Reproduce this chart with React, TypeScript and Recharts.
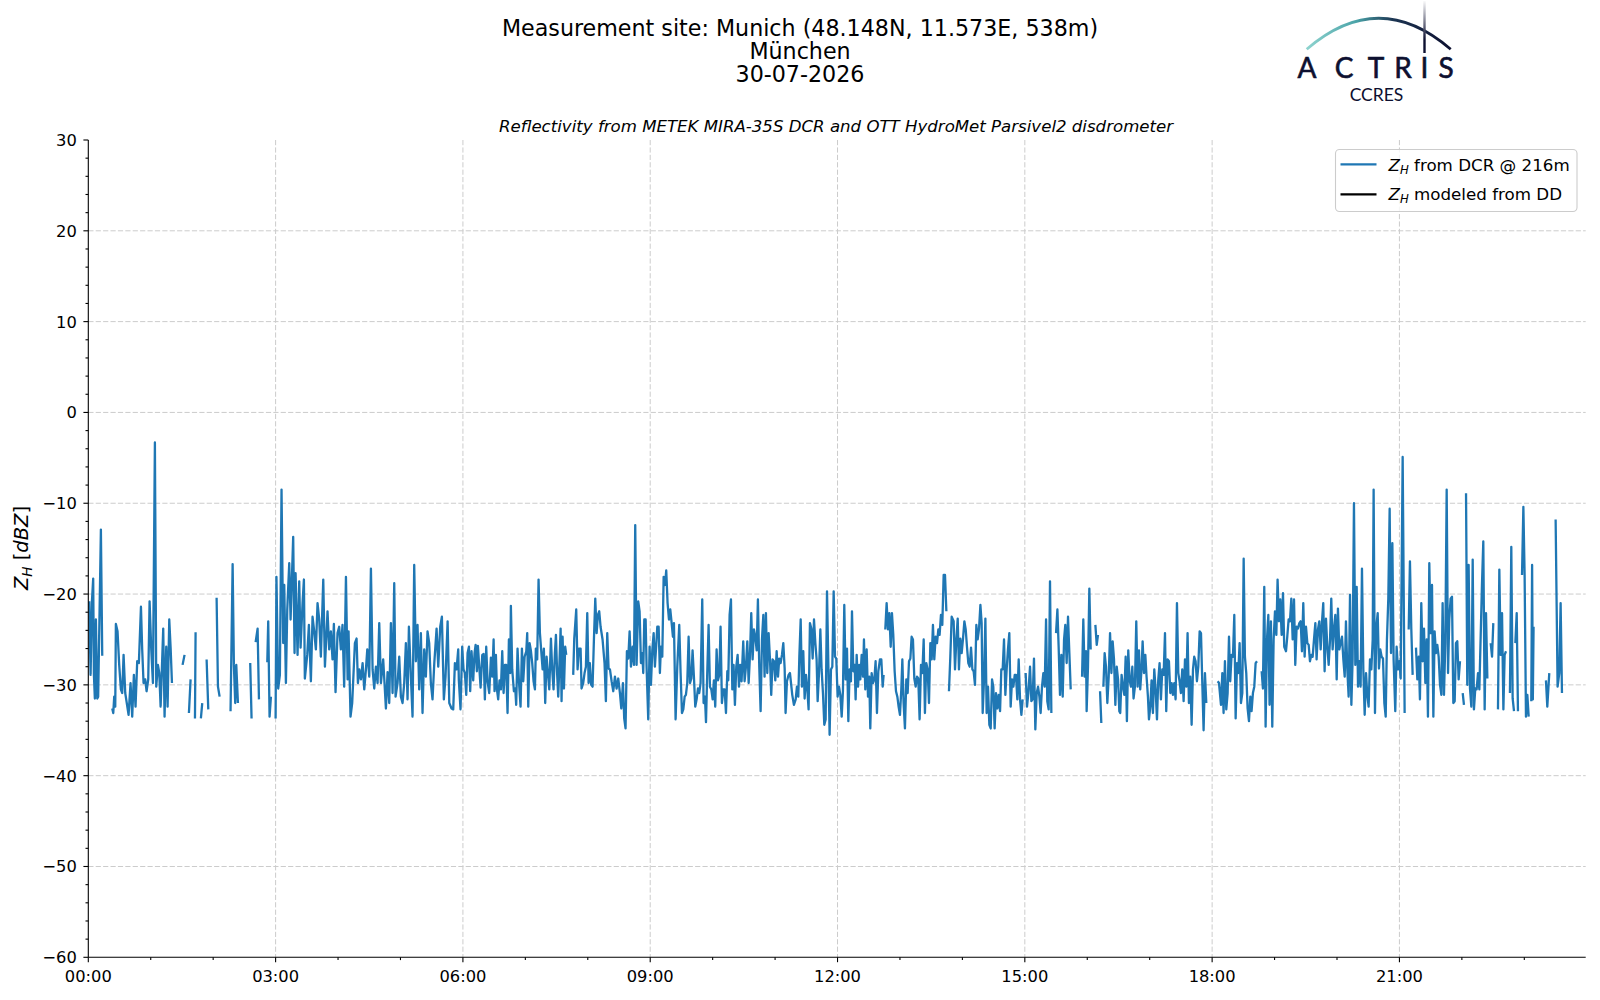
import React from "react";
import { LineChart, Line, XAxis, YAxis, CartesianGrid } from "recharts";

type Pt = [number, number | null];

// Z_H from DCR @ 216m: [minutes since 00:00, dBZ], null = no data
const zh00: Pt[] = [
  [0.9, -20.8], [2.2, -28.9], [3.5, -20.8], [4.7, -18.3], [5.4, -28.9], [6.3, -31.5], [7.3, -22.8], [8.6, -31.5], [9.5, -31.3], [12.1, -12.9], [13.4, -26.8], [18, null],
  [23.0, -32.6], [24.0, -33.1], [24.9, -31.3], [25.9, -32.4], [26.5, -23.3], [28.1, -24.1], [29.7, -27.8], [31.3, -30.5], [32.6, -30.9], [33.9, -26.7], [35.5, -30.9], [38.7, -33.3],
  [40.6, -29.8], [42.2, -33.5], [43.8, -28.9], [45.4, -32.4], [47.0, -27.4], [48.6, -27.6], [50.6, -21.4], [51.8, -26.1], [53.1, -29.8], [54.7, -29.4], [56.0, -30.7], [57.6, -29.4],
  [58.9, -20.8], [60.5, -26.1], [62.1, -29.8], [64.0, -3.3], [65.3, -30.2], [66.9, -27.8], [68.2, -28.7], [69.5, -32.4], [72.0, -23.8], [73.3, -33.5], [74.9, -25.8], [76.2, -32.4],
  [77.8, -22.8], [79.1, -25.9], [80.4, -29.8], [85, null],
  [90.6, -27.8], [92.5, -26.7], [95, null], [96.7, -33.1], [98.3, -29.4], [100, null], [102.5, -33.7], [103.1, -24.2], [105, null], [108.2, -33.7], [109.5, -32.0], [111, null],
  [113.7, -27.2], [115.3, -32.7], [120, null], [123.3, -20.4], [124.6, -30.2], [126.2, -31.3], [132, null], [136.7, -32.9], [138.7, -16.7], [139.9, -27.8], [141.2, -32.0],
  [142.2, -27.8], [143.8, -32.0], [148, null], [155.6, -27.6], [156.9, -33.7], [158, null], [160.8, -25.3], [162.7, -23.8], [164.0, -31.6], [166, null],
  [172.0, -27.5], [172.9, -23.0], [174.2, -33.5], [175.5, -31.3], [178, null],
];

const zh03: Pt[] = [
  [180.0, -33.7], [180.8, -18.1], [182.5, -30.4], [184.1, -28.9], [185.7, -8.5], [187.3, -25.4], [188.3, -19.0], [189.9, -29.8], [191.2, -21.7], [193.1, -16.6], [194.4, -22.8],
  [196.9, -13.7], [198.2, -26.5], [199.2, -17.7], [201.1, -26.7], [202.7, -18.6], [204.0, -25.9], [205.9, -21.0], [207.2, -18.4], [208.1, -29.3], [210.4, -26.7], [212.0, -23.4],
  [213.9, -29.6], [215.5, -22.5], [217.1, -24.1], [218.7, -26.1], [220.3, -21.0], [221.9, -22.8], [223.5, -26.9], [225.8, -18.4], [227.4, -28.0], [229.9, -21.9], [231.5, -26.1],
  [233.1, -24.1], [234.7, -27.2], [236.0, -23.3], [237.6, -30.8], [239.5, -24.3], [241.1, -23.6], [242.7, -26.1], [244.3, -23.4], [245.9, -30.2], [247.6, -18.1], [249.2, -29.4],
  [250.1, -24.1], [252.0, -33.5], [253.6, -32.0], [256.2, -25.4], [257.8, -24.9], [259.1, -29.8], [260.4, -28.3], [262.0, -29.4], [263.6, -27.6], [265.2, -30.5], [266.8, -28.3],
  [268.1, -26.1], [270.0, -29.1], [271.6, -17.2], [273.2, -28.3], [274.8, -30.4], [276.4, -28.0], [278.0, -29.8], [279.6, -23.2], [281.2, -29.8], [283.4, -27.2], [286.0, -32.6],
  [287.6, -28.6], [289.2, -32.0], [290.8, -23.2], [292.4, -30.9], [294.0, -18.8], [295.3, -31.3], [297.2, -29.8], [298.8, -26.9], [300.4, -31.3], [302.0, -32.0], [303.6, -29.8],
  [305.2, -25.4], [306.8, -31.6], [308.1, -23.6], [310.0, -29.1], [311.6, -33.5], [313.2, -16.8], [314.8, -27.4], [316.4, -23.4], [318.0, -30.5], [319.6, -24.3], [321.2, -33.1],
  [322.8, -26.1], [324.4, -29.1], [326.0, -24.1], [327.6, -25.4], [329.2, -29.8], [330.8, -31.6], [332.5, -27.6], [334.7, -23.8], [336.3, -28.0], [338.2, -23.6], [339.8, -22.5],
  [341.7, -31.6], [343.3, -29.1], [345.3, -23.0], [346.9, -32.0], [349.1, -32.6], [350.7, -32.7], [352.3, -27.6], [353.9, -28.3], [355.5, -26.1], [356.1, -29.5], [357.7, -32.7],
  [359.3, -25.8],
];

const zh06: Pt[] = [
  [360.6, -28.3], [361.9, -28.7], [363.2, -31.1], [364.5, -26.5], [365.8, -25.8], [367.0, -30.7], [368.3, -26.3], [369.9, -29.5], [371.2, -26.5], [372.2, -25.6], [373.4, -28.5],
  [374.4, -25.7], [377.0, -30.3], [378.6, -26.7], [379.9, -26.6], [381.1, -31.6], [382.4, -25.8], [383.7, -29.6], [385.3, -30.9], [386.9, -27.0], [388.2, -29.1], [389.5, -25.0],
  [390.4, -30.7], [391.7, -26.7], [392.7, -30.5], [393.9, -31.6], [395.2, -29.5], [396.5, -30.5], [397.8, -26.3], [399.1, -30.9], [400.4, -27.8], [401.6, -27.8], [402.9, -33.1],
  [404.2, -25.0], [405.5, -28.7], [406.1, -21.3], [407.4, -28.3], [409.0, -30.7], [410.3, -30.4], [411.2, -32.2], [412.5, -26.0], [413.8, -29.5], [415.4, -32.4], [416.7, -26.0],
  [418.0, -29.6], [419.3, -26.9], [420.9, -26.3], [421.8, -24.3], [422.8, -32.4], [424.1, -25.4], [425.3, -26.2], [426.6, -27.6], [427.9, -29.6], [429.2, -30.5], [430.1, -26.0],
  [431.4, -27.2], [432.7, -18.4], [434.0, -24.3], [436.6, -28.3], [437.8, -26.0], [439.1, -32.0], [440.4, -26.9], [441.7, -28.7], [443.0, -30.5], [444.6, -24.9], [445.8, -28.3],
  [447.1, -30.5], [448.4, -26.5], [449.4, -24.5], [450.6, -28.9], [451.6, -31.3], [452.6, -28.2], [453.9, -23.8], [454.8, -31.8], [455.8, -24.7], [457.1, -30.4], [458.3, -25.8],
  [459.3, -26.7], [462, null], [466.0, -28.9], [467.0, -24.9], [468.9, -21.7], [470.2, -28.3], [471.5, -26.0], [473.1, -26.0], [474.0, -30.4], [475.6, -29.8], [476.9, -28.7],
  [478.2, -28.0], [479.5, -22.1], [480.8, -29.8], [482.0, -27.6], [483.3, -30.0], [484.6, -30.2], [485.9, -25.0], [487.2, -20.5], [488.5, -24.3], [489.7, -22.3], [491.0, -21.9],
  [492.3, -23.6], [494.2, -25.0], [496.1, -27.6], [497.4, -31.8], [498.7, -24.3], [500.0, -28.2], [501.3, -28.3], [502.9, -29.6], [504.5, -30.7], [506.1, -29.1], [507.7, -30.4],
  [509.3, -29.3], [510.9, -30.9], [512.2, -32.6], [513.8, -29.8], [515.0, -33.7], [516.3, -34.8], [517.6, -26.3], [518.9, -27.1], [520.2, -24.1], [521.5, -28.0], [523.1, -25.8],
  [524.4, -27.8], [525.6, -12.4], [526.9, -27.8], [528.5, -20.8], [529.8, -21.9], [531.1, -27.6], [532.4, -26.5], [533.3, -28.7], [534.3, -22.8], [535.6, -22.8], [536.5, -28.0],
  [538.1, -33.8], [539.4, -25.8],
];

const zh09: Pt[] = [
  [540.7, -30.0], [542.0, -26.2], [543.3, -24.3], [544.5, -28.0], [545.8, -25.6], [546.8, -23.6], [548.1, -23.6], [549.3, -28.7], [550.3, -25.8], [551.6, -26.9], [552.9, -18.1],
  [554.2, -19.0], [555.4, -17.4], [556.7, -21.0], [558.0, -22.8], [559.3, -21.7], [560.6, -23.2], [561.8, -24.7], [562.8, -23.2], [564.4, -33.8], [566.0, -28.0], [567.9, -23.4],
  [569.2, -28.7], [570.5, -33.1], [571.8, -32.7], [573.1, -31.3], [574.3, -31.1], [575.6, -29.8], [576.9, -24.7], [578.2, -29.8], [579.5, -29.3], [580.7, -26.2], [582.0, -29.1],
  [583.3, -32.4], [584.6, -31.6], [585.9, -30.4], [587.1, -30.9], [588.4, -29.8], [590.0, -20.6], [591.3, -32.0], [592.6, -31.3], [593.6, -34.1], [594.8, -28.7], [596.1, -23.4],
  [597.4, -30.2], [598.7, -30.5], [600.0, -31.6], [601.2, -29.5], [602.5, -32.4], [603.8, -26.1], [605.1, -29.5], [606.4, -28.9], [607.6, -23.6], [608.9, -32.0], [610.2, -30.5],
  [611.5, -30.5], [612.8, -33.1], [614.1, -28.5], [615.0, -29.5], [616.3, -22.3], [617.6, -20.6], [618.9, -30.5], [620.1, -27.8], [621.4, -32.2], [622.7, -28.0], [624.0, -26.7],
  [625.3, -30.2], [626.5, -27.8], [627.8, -29.6], [629.4, -25.2], [630.7, -29.6], [632.0, -28.0], [633.3, -25.2], [634.6, -29.8], [635.8, -26.9], [637.1, -22.1], [638.4, -27.2],
  [639.7, -23.9], [641.0, -24.7], [642.3, -26.2], [643.5, -20.6], [644.8, -28.0], [646.1, -32.9], [647.4, -25.0], [648.7, -22.3], [649.9, -29.1], [651.2, -22.1], [652.5, -28.7],
  [653.8, -24.3], [655.1, -27.2], [656.3, -31.1], [657.6, -27.2], [658.9, -27.4], [660.2, -29.5], [661.5, -26.3], [662.8, -29.1], [664.0, -27.1], [665.3, -27.6], [666.6, -26.7],
  [667.9, -25.4], [669.2, -28.2], [670.1, -33.1], [671.4, -29.6], [673.0, -28.9], [674.3, -28.7], [676.5, -31.1], [678.1, -32.2], [679.8, -31.6], [681.0, -30.2], [682.3, -31.3],
  [683.3, -26.9], [684.6, -22.8], [685.8, -30.2], [687.1, -26.3], [688.4, -31.5], [689.7, -28.9], [691.0, -30.5], [692.2, -32.7], [693.5, -23.2], [694.8, -23.8], [696.1, -27.1],
  [697.4, -22.8], [698.7, -25.4], [699.9, -27.2], [700.9, -31.8], [702.2, -28.7], [703.5, -23.9], [704.7, -28.3], [706.0, -30.9], [707.3, -34.4], [708.6, -33.8], [709.9, -19.7],
  [711.1, -27.2], [712.4, -35.5], [713.7, -28.3], [715.0, -28.0], [716.3, -19.7], [717.6, -26.9], [718.8, -27.1],
];

const zh12: Pt[] = [
  [720.1, -31.3], [721.4, -30.2], [722.7, -31.1], [724.0, -33.5], [725.2, -30.7], [726.5, -21.2], [727.8, -29.4], [729.1, -26.0], [730.4, -34.0], [731.6, -28.3], [732.9, -29.6],
  [733.9, -21.9], [735.2, -28.5], [736.5, -27.8], [737.4, -31.6], [738.4, -26.7], [739.7, -30.2], [740.9, -27.8], [741.9, -29.4], [743.2, -26.7], [744.5, -29.1], [745.4, -25.0],
  [746.7, -30.5], [748.0, -26.1], [749.3, -31.3], [750.5, -29.1], [751.5, -34.8], [752.8, -28.7], [754.1, -29.8], [755.4, -29.4], [756.6, -27.4], [757.9, -33.1], [759.2, -28.5],
  [760.8, -27.2], [762.1, -27.2], [763.4, -30.2], [764.3, -28.9], [765.3, null], [765.9, -23.9], [767.2, -21.0], [768.5, -23.9], [769.8, -22.1], [771.1, -25.8], [772.3, -22.1],
  [773.6, -24.5], [774.9, -28.5], [776.2, -30.7], [777.5, -31.3], [778.7, -32.4], [780.0, -33.3], [781.3, -30.5], [782.3, -27.2], [783.5, -32.0], [784.8, -34.8], [786.1, -29.4],
  [787.4, -30.9], [788.7, -27.4], [790.0, -27.1], [791.2, -24.7], [792.5, -25.0], [793.8, -29.3], [795.1, -30.2], [796.4, -29.1], [797.6, -29.3], [798.9, -33.8], [800.2, -27.8],
  [801.5, -28.7], [802.8, -25.0], [804.0, -33.1], [805.3, -27.6], [806.6, -28.3], [807.9, -32.0], [809.2, -25.4], [810.5, -27.2], [811.7, -23.4], [813.0, -27.2], [814.3, -24.7],
  [815.6, -25.4], [816.9, -23.9], [818.1, -24.5], [819.4, -22.3], [820.7, -23.4], [822.0, -17.9], [823.3, -17.9], [824.6, -21.9], [826, null], [827.1, -30.7], [828.4, -26.9],
  [829.7, -22.5], [831.6, -23.0], [832.9, -28.3], [834.2, -25.0], [835.5, -22.7], [836.7, -28.3], [838.0, -24.9], [839.3, -26.5], [840.6, -24.9], [841.9, -23.0], [843.2, -23.9],
  [844.4, -25.8], [845.7, -27.6], [847.0, -28.0], [848.3, -25.9], [849.6, -28.3], [850.8, -28.5], [852.1, -30.0], [853.4, -23.4], [854.7, -25.0], [856.0, -23.8], [857.3, -21.2],
  [858.5, -23.2], [859.5, -33.1], [860.8, -29.4], [862.1, -22.7], [863.3, -33.1], [864.6, -30.2], [865.9, -34.4], [867.2, -34.8], [868.5, -29.4], [869.7, -30.2], [871.0, -34.8],
  [872.3, -30.9], [873.6, -32.6], [874.9, -31.1], [876.2, -32.9], [877.4, -28.3], [878.7, -28.3], [880.0, -25.0], [881.3, -31.1], [882.6, -28.2], [883.8, -26.1], [885.1, -24.3],
  [886.4, -32.4], [887.7, -29.4], [889.0, -30.2], [890.3, -28.9], [891.5, -28.9], [892.8, -31.6], [894.1, -27.2], [895.4, -31.6], [896.7, -33.3], [897.9, -31.6], [899.5, null],
];

const zh15: Pt[] = [
  [900.8, -28.7], [902.1, -32.4], [903.4, -30.9], [905.0, -28.0], [906.3, -31.8], [907.5, -31.6], [908.8, -27.1], [910.1, -34.9], [911.4, -30.9], [912.7, -30.2], [914.0, -31.3],
  [915.2, -33.1], [916.5, -30.2], [917.8, -28.7], [919.1, -30.2], [920.4, -22.8], [921.6, -31.8], [922.9, -32.7], [924.2, -18.6], [925.5, -33.1], [927, null], [930.0, -24.3],
  [931.3, -21.7], [932.5, -25.8], [933.8, -31.1], [935.1, -26.7], [936.4, -31.3], [937.7, -25.0], [938.9, -23.4], [940.2, -27.6], [941.5, -22.5], [942.8, -26.5], [944.1, -30.5],
  [950, null], [955.0, -29.1], [956.2, -22.8], [957.5, -29.1], [958.8, -26.3], [959.4, -32.9], [960.7, -28.0], [962.0, -19.4], [963.3, -26.1], [965, null], [967.8, -23.4],
  [969.1, -25.6], [970.3, -24.5], [971.5, null], [972.3, -30.7], [973.5, -34.2], [974.8, null], [975.5, -30.2], [976.7, -26.5], [978.0, -28.0], [979.3, -32.0], [980.6, -29.1],
  [981.9, -24.3], [983.2, -28.7], [984.4, -25.2], [985.7, -27.2], [987.0, -32.2], [988.3, -28.0], [989.6, -29.4], [990.8, -32.9], [991.7, -33.1], [993.0, -28.9], [994.3, -30.2],
  [995.6, -31.1], [996.9, -26.9], [998.1, -34.0], [999.4, -26.2], [1000.7, -29.5], [1002.0, -30.2], [1003.3, -28.0], [1004.5, -31.5], [1005.8, -30.2], [1007.1, -23.0],
  [1008.4, -30.2], [1009.7, -26.2], [1010.9, -30.5], [1012.2, -28.2], [1013.2, -25.2], [1014.5, -28.7], [1015.8, -26.7], [1017.0, -29.1], [1018.3, -31.3], [1019.3, -33.8],
  [1020.6, -32.4], [1021.8, -29.5], [1023.1, -33.1], [1024.4, -28.3], [1025.7, -30.5], [1027.0, -33.8], [1028.2, -29.5], [1029.5, -27.6], [1030.8, -31.6], [1032.1, -28.3],
  [1033.4, -28.9], [1034.7, -24.3], [1035.9, -32.9], [1037.2, -27.2], [1038.5, -27.4], [1039.8, -30.9], [1041.1, -29.8], [1042.3, -31.1], [1043.6, -29.8], [1044.9, -31.6],
  [1046.2, -21.0], [1047.5, -28.7], [1048.7, -29.6], [1050.0, -30.9], [1051.3, -28.3], [1052.6, -31.8], [1053.9, -27.2], [1055.2, -30.2], [1056.4, -24.3], [1057.7, -32.0],
  [1059.0, -29.1], [1060.3, -34.4], [1061.6, -28.3], [1062.8, -26.9], [1064.1, -27.4], [1065.4, -29.6], [1066.7, -28.0], [1068.0, -24.1], [1069.3, -24.3], [1070.5, -29.6],
  [1071.8, -35.0], [1073.1, -28.7], [1074.4, -32.0], [1080, null],
];

const zh18: Pt[] = [
  [1085.3, -29.6], [1086.6, -29.8], [1088.5, -32.2], [1089.8, -28.7], [1091.0, -33.1], [1092.3, -27.4], [1093.6, -32.7], [1094.9, -30.9], [1096.2, -24.7], [1097.4, -29.6],
  [1098.7, -26.7], [1100.0, -26.9], [1101.3, -22.3], [1102.6, -33.7], [1103.9, -27.6], [1105.1, -28.7], [1106.4, -25.4], [1107.7, -32.0], [1109.0, -30.9], [1110.3, -16.1],
  [1111.5, -26.9], [1112.8, -28.7], [1114.1, -32.6], [1115.4, -34.0], [1116.7, -31.3], [1117.9, -32.9], [1119.2, -30.9], [1120.5, -30.2], [1121.8, -27.6], [1123.1, -27.4],
  [1125, null], [1127.6, -28.5], [1128.8, -30.4], [1130.1, -19.2], [1131.4, -34.6], [1132.7, -25.0], [1134.0, -22.3], [1135.2, -32.2], [1136.5, -23.0], [1137.8, -34.6],
  [1139.1, -25.0], [1140.4, -21.9], [1141.7, -24.5], [1142.9, -18.4], [1144.2, -23.0], [1145.5, -20.6], [1146.8, -24.5], [1148.1, -19.9], [1149.3, -25.8], [1151.0, -26.3],
  [1152.2, -24.7], [1153.5, -22.8], [1154.8, -23.0], [1156.1, -20.5], [1157.4, -25.0], [1158.7, -20.6], [1159.9, -27.8], [1161.2, -23.6], [1162.5, -23.8], [1163.8, -23.2],
  [1165.1, -23.0], [1166.3, -26.3], [1167.6, -21.0], [1168.9, -26.9], [1170.2, -23.6], [1171.5, -25.4], [1172.8, -25.6], [1174.0, -27.4], [1175.3, -26.7], [1176.6, -26.9],
  [1177.9, -25.0], [1179.2, -23.2], [1180.4, -27.2], [1181.7, -23.9], [1183.0, -23.0], [1184.3, -26.1], [1185.6, -23.0], [1186.8, -21.0], [1188.1, -28.5], [1189.4, -22.7],
  [1190.7, -25.8], [1192.0, -27.8], [1193.3, -25.0], [1194.5, -20.5], [1195.8, -26.1], [1197.1, -23.8], [1198.4, -22.3], [1199.7, -29.4], [1200.9, -21.6], [1202.2, -26.1],
  [1203.5, -25.4], [1204.8, -24.7], [1206.1, -27.2], [1207.4, -29.1], [1208.6, -23.0], [1209.9, -28.3], [1211.2, -31.3], [1212.5, -20.1], [1213.8, -32.2], [1215.0, -27.2],
  [1216.3, -10.0], [1217.6, -27.8], [1218.9, -19.2], [1220.2, -30.2], [1221.4, -27.4], [1222.7, -30.2], [1224.0, -17.2], [1225.3, -28.3], [1226.6, -33.3], [1227.9, -28.7],
  [1229.1, -31.1], [1230.4, -32.4], [1231.7, -27.2], [1233.0, -28.3], [1234.3, -25.0], [1235.2, -8.5], [1236.5, -33.1], [1237.8, -23.6], [1239.1, -22.1], [1240.3, -28.2],
  [1241.6, -26.1], [1242.9, -26.9], [1244.2, -27.1], [1245.5, -32.0], [1246.8, -33.5], [1248.0, -25.0], [1249.3, -20.5], [1250.6, -10.6], [1251.9, -26.5], [1253.2, -14.4],
  [1254.4, -27.2], [1256.0, -32.9], [1257.3, -25.8], [1258.6, -28.3], [1259.9, -27.4],
];

const zh21: Pt[] = [
  [1261.2, -29.3], [1263.1, -4.9], [1265.0, -33.1], [1266, null], [1268.9, -23.9], [1270.1, -16.4], [1271.4, -23.8], [1272.7, -28.9], [1274.5, null], [1275.9, -25.9],
  [1277.2, -29.4], [1278.5, -26.9], [1279.7, -31.6], [1281.0, -21.0], [1282.3, -27.4], [1283.6, -23.8], [1284.9, -29.8], [1286.2, -25.0], [1287.4, -33.5], [1288.7, -16.6],
  [1290.0, -24.3], [1291.3, -19.0], [1292.6, -33.5], [1293.8, -24.1], [1295.1, -26.5], [1296.4, -25.6], [1297.7, -26.9], [1299.0, -30.0], [1300.3, -31.1], [1301.5, -21.0],
  [1302.8, -31.1], [1304.1, -25.4], [1305.4, -8.5], [1306.7, -28.7], [1307.9, -22.8], [1309.2, -20.5], [1310.5, -20.3], [1311.8, -32.0], [1313.1, -31.8], [1314.3, -25.4],
  [1315.6, -25.2], [1316.9, -29.4], [1318.2, -27.4], [1319.5, null], [1320.8, -30.9], [1322.0, -32.2], [1323, null], [1324.0, -8.9], [1325.2, -30.0], [1326.5, -16.8],
  [1327.8, -30.4], [1329.1, -32.4], [1330.4, -16.2], [1331.6, -32.7], [1332.9, -30.4], [1334.2, -30.5], [1335.5, -28.7], [1336.8, -30.5], [1338.1, -24.5], [1339.3, -19.0],
  [1340.6, -14.2], [1341.9, -32.7], [1343.2, -22.1], [1344.5, -29.3], [1346, null], [1347.7, -25.4], [1349.0, -26.9], [1350.2, -23.2], [1352, null], [1354.7, -32.7],
  [1356.0, -17.3], [1357.3, -26.7], [1358.6, -22.1], [1359.9, -32.7], [1361.1, -26.7], [1362.4, -26.3], [1364, null], [1366.2, -30.9], [1367.5, -14.8], [1368.8, -31.5],
  [1370.1, -32.9], [1370.8, null], [1371.4, -25.4], [1372.7, -22.1], [1373.9, -32.9], [1376, null], [1377.8, -17.9], [1379.1, -10.4], [1380.3, -17.9], [1381.6, -33.5],
  [1382.9, -31.1], [1384.2, -33.5], [1386, null], [1386.7, -31.8], [1387.5, -16.8], [1388.2, -31.6], [1388.9, -23.6], [1394, null], [1400.8, -29.5], [1402.1, -32.4],
  [1404.0, -28.7], [1406, null], [1410.1, -11.8], [1412.0, -30.2], [1413.6, -28.7], [1414.9, -21.0], [1416.2, -30.9],
];

// axis ticks (minutes since 00:00 / dBZ)
const xTicks = [0, 60, 120, 180, 240, 300, 360, 420, 480, 540, 600, 660, 720, 780, 840, 900, 960, 1020, 1080, 1140, 1200, 1260, 1320, 1380];
const yTicks = [
  -60, -58, -56, -54, -52, -50, -48, -46, -44, -42, -40, -38, -36, -34, -32, -30, -28, -26, -24, -22, -20, -18, -16, -14, -12, -10,
  -8, -6, -4, -2, 0, 2, 4, 6, 8, 10, 12, 14, 16, 18, 20, 22, 24, 26, 28, 30,
];
const gridX = [180, 360, 540, 720, 900, 1080, 1260];
const gridY = [-50, -40, -30, -20, -10, 0, 10, 20];

const data = [zh00, zh03, zh06, zh09, zh12, zh15, zh18, zh21].flat().map(([t, v]) => ({ t, zh: v }));

const FONT = "DejaVu Sans";
const spine = { stroke: "#000", strokeWidth: 1.1 };

const fmtY = (v: number) => (v < 0 ? "\u2212" + Math.abs(v) : String(v));
const fmtX = (m: number) => String(Math.floor(m / 60)).padStart(2, "0") + ":00";

function XTick(props: any) {
  const { x, y, payload } = props;
  const major = payload.value % 180 === 0;
  return (
    <g>
      <line x1={x} x2={x} y1={y} y2={y + (major ? 4.9 : 2.8)} stroke="#000" strokeWidth={1.1} />
      {major && (
        <text x={x} y={y + 24.2} textAnchor="middle" fontSize={16.3} fontFamily={FONT} fill="#000">
          {fmtX(payload.value)}
        </text>
      )}
    </g>
  );
}

function YTick(props: any) {
  const { x, y, payload } = props;
  const major = payload.value % 10 === 0;
  return (
    <g>
      <line x1={x} x2={x - (major ? 4.9 : 2.8)} y1={y} y2={y} stroke="#000" strokeWidth={1.1} />
      {major && (
        <text x={x - 11.5} y={y + 5.9} textAnchor="end" fontSize={16.3} fontFamily={FONT} fill="#000">
          {fmtY(payload.value)}
        </text>
      )}
    </g>
  );
}

function Decorations() {
  return (
    <svg width={1600} height={1000} style={{ position: "absolute", left: 0, top: 0, pointerEvents: "none" }}>
      <defs>
        <linearGradient id="arcGrad" gradientUnits="userSpaceOnUse" x1={1306} y1={0} x2={1451} y2={0}>
          <stop offset="0" stopColor="#8fd4cf" />
          <stop offset="0.35" stopColor="#4aa3a8" />
          <stop offset="0.6" stopColor="#1c3552" />
          <stop offset="1" stopColor="#0d1030" />
        </linearGradient>
        <linearGradient id="barGrad" gradientUnits="userSpaceOnUse" x1={0} y1={0} x2={0} y2={40}>
          <stop offset="0" stopColor="#ffffff" />
          <stop offset="1" stopColor="#0d1030" />
        </linearGradient>
      </defs>

      {/* figure title */}
      <g fontFamily={FONT} fontSize={22.2} fill="#000" textAnchor="middle">
        <text x={800} y={36}>Measurement site: Munich (48.148N, 11.573E, 538m)</text>
        <text x={800} y={59}>München</text>
        <text x={800} y={82}>30-07-2026</text>
      </g>
      <text x={836} y={131.7} textAnchor="middle" fontFamily={FONT} fontSize={16.6} fontStyle="italic" fill="#000">
        Reflectivity from METEK MIRA-35S DCR and OTT HydroMet Parsivel2 disdrometer
      </text>

      {/* y axis label */}
      <text transform="translate(28,548) rotate(-90)" textAnchor="middle" fontFamily={FONT} fontSize={19.5} fill="#000">
        <tspan fontStyle="italic">Z</tspan>
        <tspan fontStyle="italic" fontSize={13.6} dy={3.5}>H</tspan>
        <tspan dy={-3.5}> [</tspan>
        <tspan fontStyle="italic">dBZ</tspan>
        <tspan>]</tspan>
      </text>

      {/* legend */}
      <rect x={1335.5} y={149.5} width={241.5} height={62} rx={4} fill="#fff" fillOpacity={0.8} stroke="#cccccc" strokeWidth={1.1} />
      <line x1={1340.5} x2={1376.5} y1={164.3} y2={164.3} stroke="#1f77b4" strokeWidth={2.2} />
      <line x1={1340.5} x2={1376.5} y1={194.3} y2={194.3} stroke="#000" strokeWidth={2.2} />
      <g fontFamily={FONT} fontSize={16.7} fill="#000">
        <text x={1388.5} y={170.5}>
          <tspan fontStyle="italic">Z</tspan>
          <tspan fontStyle="italic" fontSize={11.7} dy={3}>H</tspan>
          <tspan dy={-3}> from DCR @ 216m</tspan>
        </text>
        <text x={1388.5} y={200}>
          <tspan fontStyle="italic">Z</tspan>
          <tspan fontStyle="italic" fontSize={11.7} dy={3}>H</tspan>
          <tspan dy={-3}> modeled from DD</tspan>
        </text>
      </g>

      {/* ACTRIS CCRES logo */}
      <path d="M1306.7,49.3 Q1378.7,-12.7 1450.7,49.3" fill="none" stroke="url(#arcGrad)" strokeWidth={2.8} />
      <line x1={1424.5} x2={1424.5} y1={1} y2={53} stroke="url(#barGrad)" strokeWidth={2.4} />
      <g fontFamily="Lato" fontSize={28} fill="#0d1030" textAnchor="middle" stroke="#0d1030" strokeWidth={0.6}>
        <text x={1307} y={78}>A</text>
        <text x={1344} y={78}>C</text>
        <text x={1376} y={78}>T</text>
        <text x={1403} y={78}>R</text>
        <text x={1424.5} y={78}>I</text>
        <text x={1446} y={78}>S</text>
      </g>
      <text x={1376.5} y={100.5} textAnchor="middle" fontFamily="Lato" fontSize={17.5} fill="#0d1030">CCRES</text>
    </svg>
  );
}

export default function App() {
  return (
    <div style={{ position: "absolute", left: 0, top: 0, width: 1600, height: 1000, background: "#fff" }}>
      <LineChart width={1600} height={1000} data={data} margin={{ top: 140, right: 14.3, bottom: 0, left: 0.3 }}>
        <CartesianGrid stroke="#cccccc" strokeWidth={1} strokeDasharray="5.2 2.2" horizontalValues={gridY} verticalValues={gridX} />
        <XAxis
          dataKey="t"
          type="number"
          domain={[0, 1439]}
          ticks={xTicks}
          interval={0}
          tick={(p: any) => <XTick {...p} />}
          tickLine={false}
          tickSize={0}
          tickMargin={0}
          height={42.7}
          axisLine={spine}
          allowDataOverflow
        />
        <XAxis xAxisId="top" orientation="top" dataKey="t" type="number" domain={[0, 1439]} tick={false} tickLine={false} height={0} axisLine={spine} />
        <YAxis
          type="number"
          domain={[-60, 30]}
          ticks={yTicks}
          interval={0}
          tick={(p: any) => <YTick {...p} />}
          tickLine={false}
          tickSize={0}
          tickMargin={0}
          width={88}
          axisLine={spine}
          allowDataOverflow
        />
        <YAxis yAxisId="right" orientation="right" type="number" domain={[-60, 30]} tick={false} tickLine={false} width={0} axisLine={spine} />
        <Line
          dataKey="zh"
          name="Z_H from DCR @ 216m"
          stroke="#1f77b4"
          strokeWidth={2.3}
          strokeLinejoin="round"
          dot={false}
          connectNulls={false}
          isAnimationActive={false}
        />
        <Line dataKey="dd" name="Z_H modeled from DD" stroke="#000" strokeWidth={2} dot={false} isAnimationActive={false} />
      </LineChart>
      <Decorations />
    </div>
  );
}
